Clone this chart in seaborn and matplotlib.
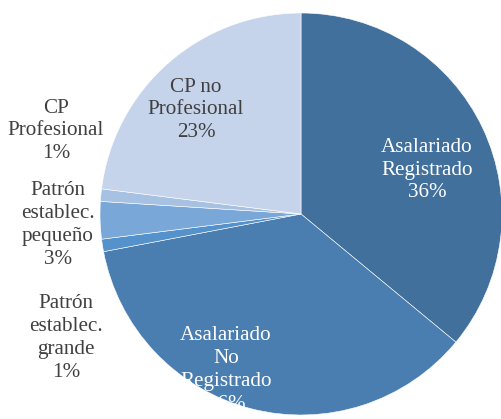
import matplotlib
matplotlib.use("Agg")
import matplotlib.pyplot as plt
import seaborn as sns

categories = ["Asalariado\nRegistrado", "Asalariado\nNo\nRegistrado", "Patrón\nestablec.\ngrande",
              "Patrón\nestablec.\npequeño", "CP\nProfesional", "CP no\nProfesional"]
shares = [36, 36, 1, 3, 1, 23]
colors = ["#41709C", "#4A7EB1", "#5591CB", "#79A8D8", "#A7C1E2", "#C5D4EA"]
text_colors = ["white", "white", "#404040", "#404040", "#404040", "#404040"]
# label centres in pixels (x, y from top) of the 501x419 picture
label_px = [(427, 170), (226, 370), (66, 338), (58, 225), (56, 131), (196, 110)]

sns.set_theme(style="white")
plt.rcParams["font.family"] = ["Liberation Serif", "DejaVu Serif"]

fig = plt.figure(figsize=(5.01, 4.19), dpi=100)
ax = fig.add_axes([0, 0, 1, 1])

cx, cy, r = 301, 214, 201
ax.pie(shares, colors=colors, startangle=90, counterclock=False,
       wedgeprops=dict(edgecolor="white", linewidth=0.4))

for cat, val, (px, py), tc in zip(categories, shares, label_px, text_colors):
    ax.text((px - cx) / r, (cy - py) / r, f"{cat}\n{val}%", ha="center", va="center",
            fontsize=15.2, color=tc, linespacing=1.28, family=["Liberation Serif", "DejaVu Serif"])

ax.set_xlim(-cx / r, (501 - cx) / r)
ax.set_ylim((cy - 419) / r, cy / r)
ax.set_aspect("auto")
ax.axis("off")

fig.savefig("out.png", dpi=100)
